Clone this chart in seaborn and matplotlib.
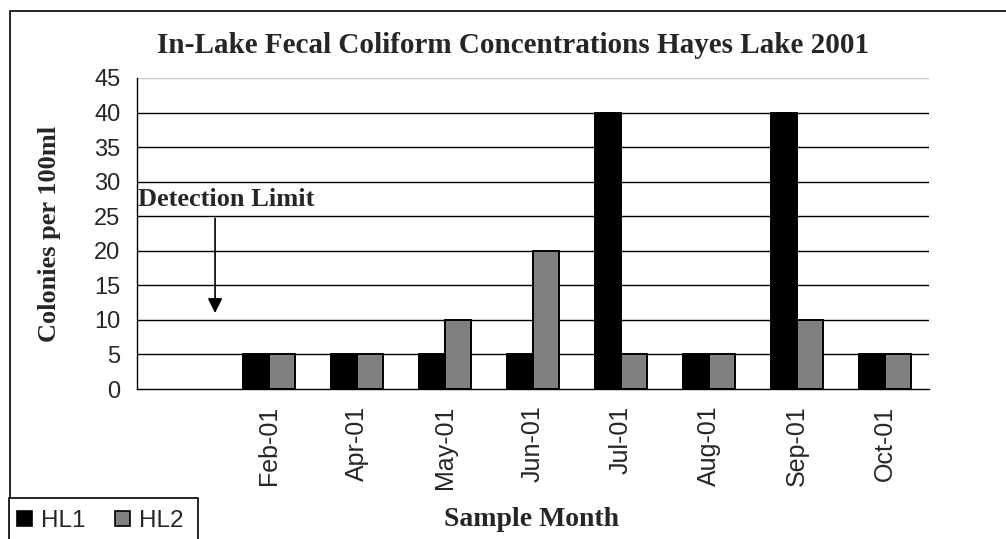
import numpy as np
import pandas as pd
import matplotlib
matplotlib.use("Agg")
import matplotlib.pyplot as plt
from matplotlib.patches import Patch, Rectangle
import seaborn as sns

# Sample months (the leading blank slot holds no samples)
months = [" ", "Feb-01", "Apr-01", "May-01", "Jun-01", "Jul-01", "Aug-01", "Sep-01", "Oct-01"]
sampled_months = months[1:]
hl1 = [5, 5, 5, 5, 40, 5, 40, 5]
hl2 = [5, 5, 10, 20, 5, 5, 10, 5]
sites = ["HL1", "HL2"]
yticks = [0, 5, 10, 15, 20, 25, 30, 35, 40, 45]

df = pd.DataFrame({
    "month": sampled_months * 2,
    "site": ["HL1"] * len(hl1) + ["HL2"] * len(hl2),
    "colonies": hl1 + hl2,
})

sns.set_style("white")
serif = ["Liberation Serif", "DejaVu Serif"]
sans = ["Liberation Sans", "DejaVu Sans"]
plt.rcParams["font.family"] = sans

W, H = 1006, 539
fig = plt.figure(figsize=(W / 100, H / 100), dpi=100)
ax = fig.add_axes([137 / W, 1 - 389 / H, (929 - 137) / W, (389 - 78) / H])

palette = {"HL1": "#000000", "HL2": "#808080"}
sns.barplot(data=df, x="month", y="colonies", hue="site", order=months,
            hue_order=sites, palette=palette, width=0.6, errorbar=None,
            edgecolor="black", linewidth=1.4, saturation=1, ax=ax, legend=False)

ax.set_xlim(-0.5, len(months) - 0.5)
ax.set_ylim(0, 45)
ax.set_yticks(yticks)
ax.set_yticklabels([str(v) for v in yticks], fontsize=17)
ax.set_xticks(range(len(months)))
ax.set_xticklabels(months, rotation=90, fontsize=18)
ax.set_xticks(np.arange(-0.5, len(months)), minor=True)
ax.tick_params(axis="x", which="major", length=0, pad=12)
ax.tick_params(axis="x", which="minor", length=7, width=1, color="black", direction="out")
ax.tick_params(axis="y", length=8, width=1, color="black", direction="out", pad=4)

# horizontal gridlines behind the bars
for v in yticks[1:]:
    ax.axhline(v, color="#c8c8c8" if v == 45 else "black", lw=1, zorder=0)

for side in ["top", "right"]:
    ax.spines[side].set_visible(False)
for side in ["left", "bottom"]:
    ax.spines[side].set_color("black")
    ax.spines[side].set_linewidth(1)
    ax.spines[side].set_zorder(5)

ax.set_xlabel("")
ax.set_ylabel("")

# detection-limit note with downward arrow
ax.text(-0.49, 27.4, "Detection Limit", family=serif, fontweight="bold",
        fontsize=19, ha="left", va="center")
ax.annotate("", xy=(0.387, 11.0), xytext=(0.387, 24.7),
            arrowprops=dict(arrowstyle="-|>", color="black", lw=1.2,
                            mutation_scale=22, shrinkA=0, shrinkB=0))

fig.text(513 / W, 1 - 53 / H, "In-Lake Fecal Coliform Concentrations Hayes Lake 2001",
         family=serif, fontweight="bold", fontsize=21, ha="center", va="baseline")
fig.text(532 / W, 1 - 520 / H, "Sample Month", family=serif, fontweight="bold",
         fontsize=20, ha="center", va="center")
fig.text(50 / W, 1 - 234 / H, "Colonies per 100ml", family=serif, fontweight="bold",
         fontsize=19, ha="center", va="center", rotation=90)

# chart border and legend box
fig.patches.append(Rectangle((10 / W, -0.1), 1.2, 1 - 11 / H + 0.1, transform=fig.transFigure,
                             fill=False, edgecolor="black", lw=1.2))
fig.patches.append(Rectangle((9 / W, -0.1), (198 - 9) / W, 0.1 + (539 - 498) / H,
                             transform=fig.transFigure, facecolor="white",
                             edgecolor="black", lw=1.2, zorder=3))
handles = [Patch(facecolor=palette[s], edgecolor="black", lw=1.2, label=s) for s in sites]
leg = fig.legend(handles=handles, loc="center left", bbox_to_anchor=(17 / W, 1 - 521 / H),
                 ncol=2, frameon=False, fontsize=17.5, handlelength=0.6, handleheight=0.6,
                 handletextpad=0.4, columnspacing=1.2, borderpad=0, borderaxespad=0)
leg.set_zorder(4)

fig.savefig("out.png", dpi=100)
